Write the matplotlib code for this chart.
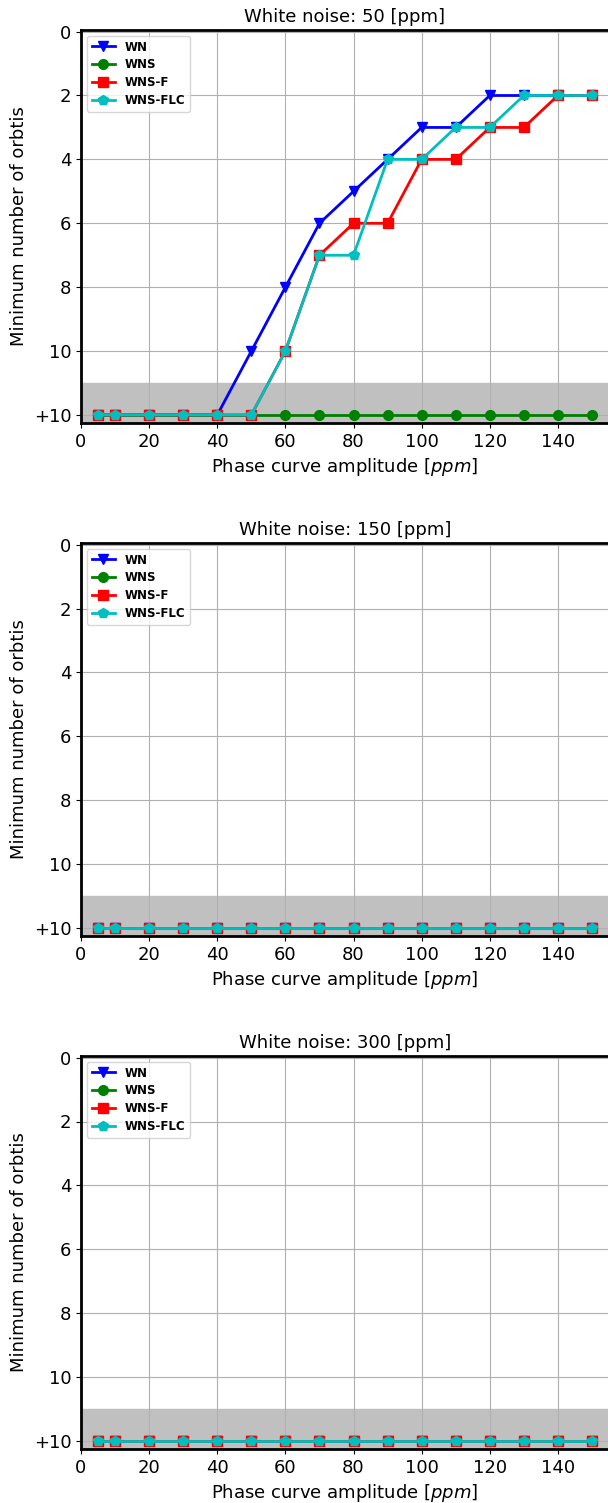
import numpy as np
import matplotlib
matplotlib.use('Agg')
import matplotlib.pyplot as plt

amp = [5, 10, 20, 30, 40, 50, 60, 70, 80, 90, 100, 110, 120, 130, 140, 150]
noise_levels = [50, 150, 300]

# 12 stands for "+10" (no detection within 10 orbits)
wn_50 = [12, 12, 12, 12, 12, 10, 8, 6, 5, 4, 3, 3, 2, 2, 2, 2]
wns_50 = [12] * 16
wnsf_50 = [12, 12, 12, 12, 12, 12, 10, 7, 6, 6, 4, 4, 3, 3, 2, 2]
wnsflc_50 = [12, 12, 12, 12, 12, 12, 10, 7, 7, 4, 4, 3, 3, 2, 2, 2]

wn_150 = [12] * 16
wns_150 = [12] * 16
wnsf_150 = [12] * 16
wnsflc_150 = [12] * 16

wn_300 = [12] * 16
wns_300 = [12] * 16
wnsf_300 = [12] * 16
wnsflc_300 = [12] * 16

series = {
    50: (wn_50, wns_50, wnsf_50, wnsflc_50),
    150: (wn_150, wns_150, wnsf_150, wnsflc_150),
    300: (wn_300, wns_300, wnsf_300, wnsflc_300),
}
labels = ['WN', 'WNS', 'WNS-F', 'WNS-FLC']
styles = [('b', 'v'), ('g', 'o'), ('r', 's'), ('c', 'p')]

yticks = [0, 2, 4, 6, 8, 10, 12]
yticklabels = ['0', '2', '4', '6', '8', '10', '+10']

fig = plt.figure(figsize=(6.08, 15.03), dpi=100)
W, H = 608, 1503
tops = [30, 543, 1056]
for k, wnoise in enumerate(noise_levels):
    top = tops[k]
    ax = fig.add_axes([81 / W, 1 - (top + 393) / H, 528 / W, 393 / H])
    ax.axhspan(11, 13, color='silver', zorder=0)
    for (c, m), lab, vals in zip(styles, labels, series[wnoise]):
        ax.plot(amp, vals, color=c, marker=m, lw=2, ms=7, label=lab)
    ax.set_xlim(0, 155)
    ax.set_ylim(12.25, -0.05)
    ax.set_yticks(yticks)
    ax.set_yticklabels(yticklabels)
    ax.grid(True)
    ax.set_axisbelow(True)
    ax.tick_params(labelsize=13)
    for s in ['left', 'top', 'bottom']:
        ax.spines[s].set_linewidth(2)
    ax.set_title('White noise: %d [ppm]' % wnoise, fontsize=13)
    ax.set_xlabel('Phase curve amplitude [$ppm$]', fontsize=13)
    ax.set_ylabel('Minimum number of orbtis', fontsize=13)
    ax.legend(loc='upper left', prop={'weight': 'bold', 'size': 8.5},
              labelspacing=0.4)

fig.savefig('out.png', dpi=100)
